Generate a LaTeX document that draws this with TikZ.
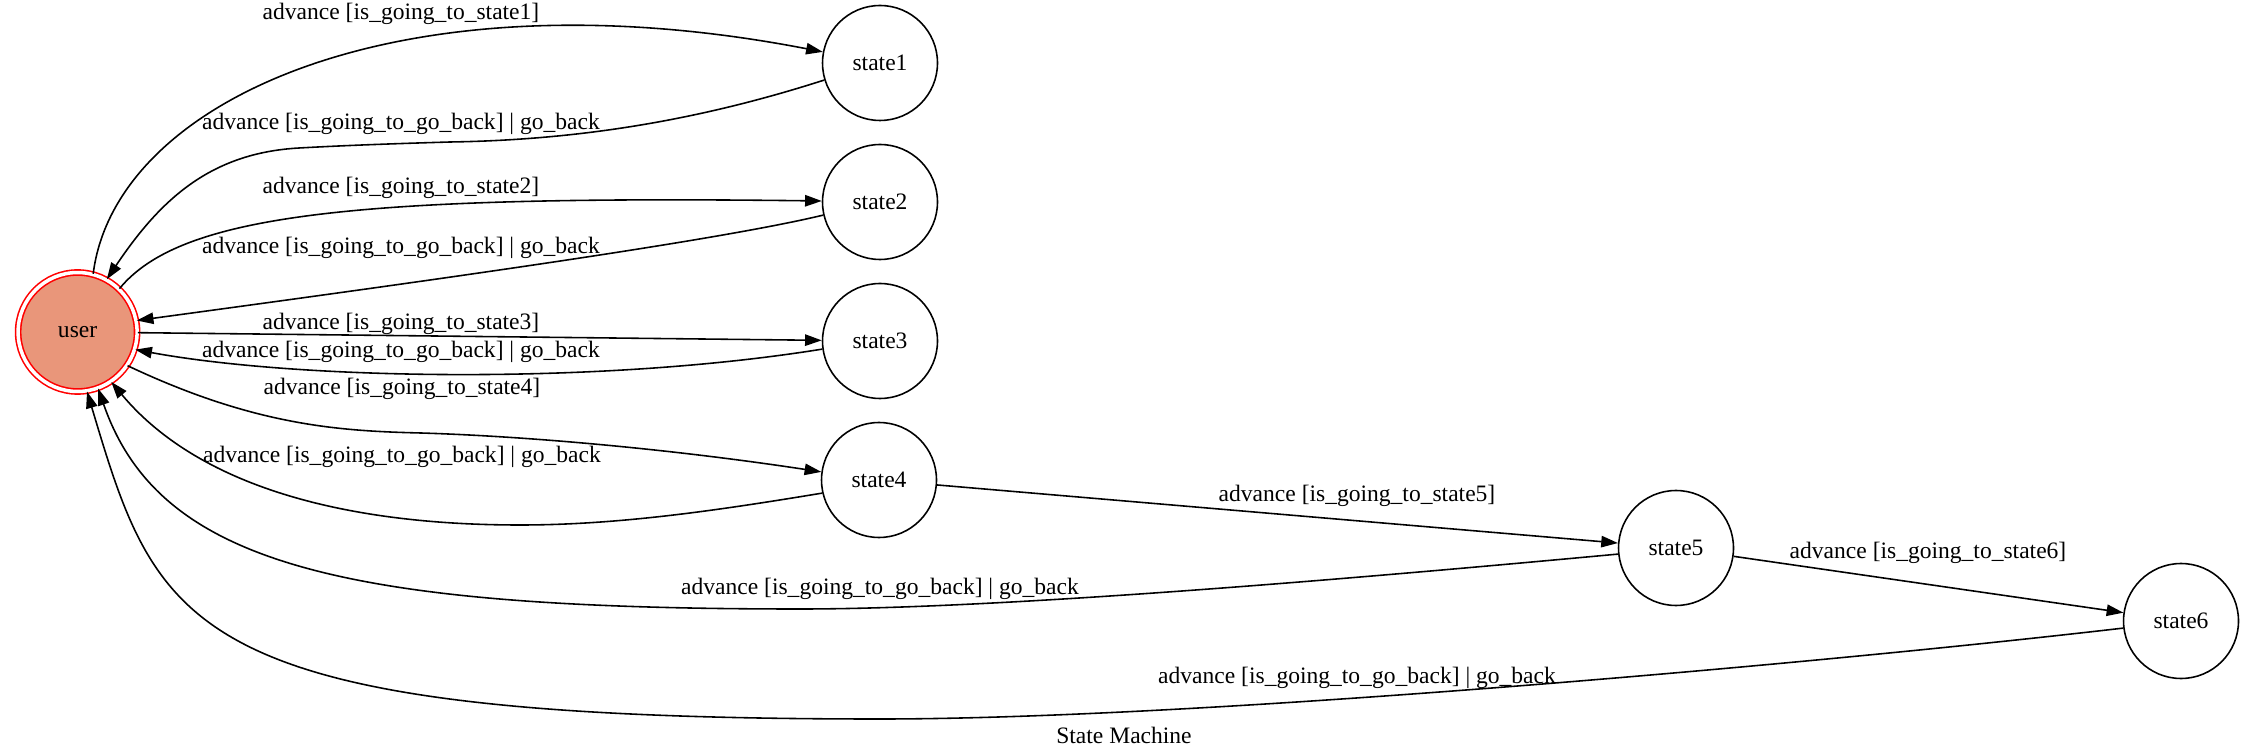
\documentclass[tikz,border=0pt]{standalone}
\usepackage{fontspec}
\setmainfont{Liberation Serif}
\usepackage{tikz}
\usetikzlibrary{arrows.meta}
\definecolor{usersalmon}{HTML}{E9967A}

\begin{document}
\begin{tikzpicture}[
    x=0.02cm, y=-0.02cm, line width=0.9pt,
    >={Triangle[length=9.5pt,width=6.5pt]},
    every node/.style={font=\fontsize{13.4}{16}\selectfont},
    state/.style={draw, circle, minimum size=2.3cm, inner sep=0pt},
    final/.style={state, fill=usersalmon, draw=red, double=white, double distance=2pt, minimum size=2.38cm}, % 初期状態
    lbl/.style={inner sep=1pt}
    ]
\useasboundingbox (0,0) rectangle (2251,756);

\node[final] (user) at (77.6,332) {user};
\node[state] (s1) at (880,63) {state1};
\node[state] (s2) at (880,202) {state2};
\node[state] (s3) at (880,341) {state3};
\node[state] (s4) at (879,480) {state4};
\node[state] (s5) at (1676,548) {state5};
\node[state] (s6) at (2181,621) {state6};

\draw[->] (user.75) .. controls (115,100) and (400,-30) .. (s1.169);
\draw[->] (s1.197) .. controls (700,120) and (580,140) .. (450,142) .. controls (400,143.5) and (349,145.2) .. (299,148) .. controls (210,153) and (160,200) .. (user.61);
\draw[->] (user.46) .. controls (180,215) and (350,195) .. (s2.179);
\draw[->] (s2.193) .. controls (720,240) and (450,278) .. (user.11);
\draw[->] (user) -- (s3);
\draw[->] (s3.188) .. controls (600,385) and (300,380) .. (user.-17);
\draw[->] (user.-34) .. controls (255,426) and (340,431) .. (421,433) .. controls (520,436) and (664,448) .. (s4.172);
\draw[->] (s4.193) .. controls (720,510) and (620,525) .. (520,525) .. controls (330,525) and (193,480) .. (user.-56);
\draw[->] (s4) -- (s5);
\draw[->] (s5.186) .. controls (1350,579) and (1000,609) .. (800,609) .. controls (341,609) and (159,564) .. (user.-70);
\draw[->] (s5) -- (s6);
\draw[->] (s6.187) .. controls (1824,663) and (1200,719) .. (880,719) .. controls (185,719) and (159,632) .. (user.-81);

\node[lbl] (l1) at (401,14) {advance [is\_going\_to\_state1]};
\node[lbl] (l2) at (401,124) {advance [is\_going\_to\_go\_back] | go\_back};
\node[lbl] (l3) at (401,188) {advance [is\_going\_to\_state2]};
\node[lbl] (l4) at (401,248) {advance [is\_going\_to\_go\_back] | go\_back};
\node[lbl] (l5) at (401,324) {advance [is\_going\_to\_state3]};
\node[lbl] (l6) at (401,352) {advance [is\_going\_to\_go\_back] | go\_back};
\node[lbl] (l7) at (402,389) {advance [is\_going\_to\_state4]};
\node[lbl] (l8) at (402,457) {advance [is\_going\_to\_go\_back] | go\_back};
\node[lbl] (l11) at (1357,496) {advance [is\_going\_to\_state5]};
\node[lbl] (l12) at (1928,553) {advance [is\_going\_to\_state6]};
\node[lbl] (l9) at (880,589) {advance [is\_going\_to\_go\_back] | go\_back};
\node[lbl] (l10) at (1357,678) {advance [is\_going\_to\_go\_back] | go\_back};
\node[lbl] (cap) at (1124,735) {State Machine};
\end{tikzpicture}
\end{document}
